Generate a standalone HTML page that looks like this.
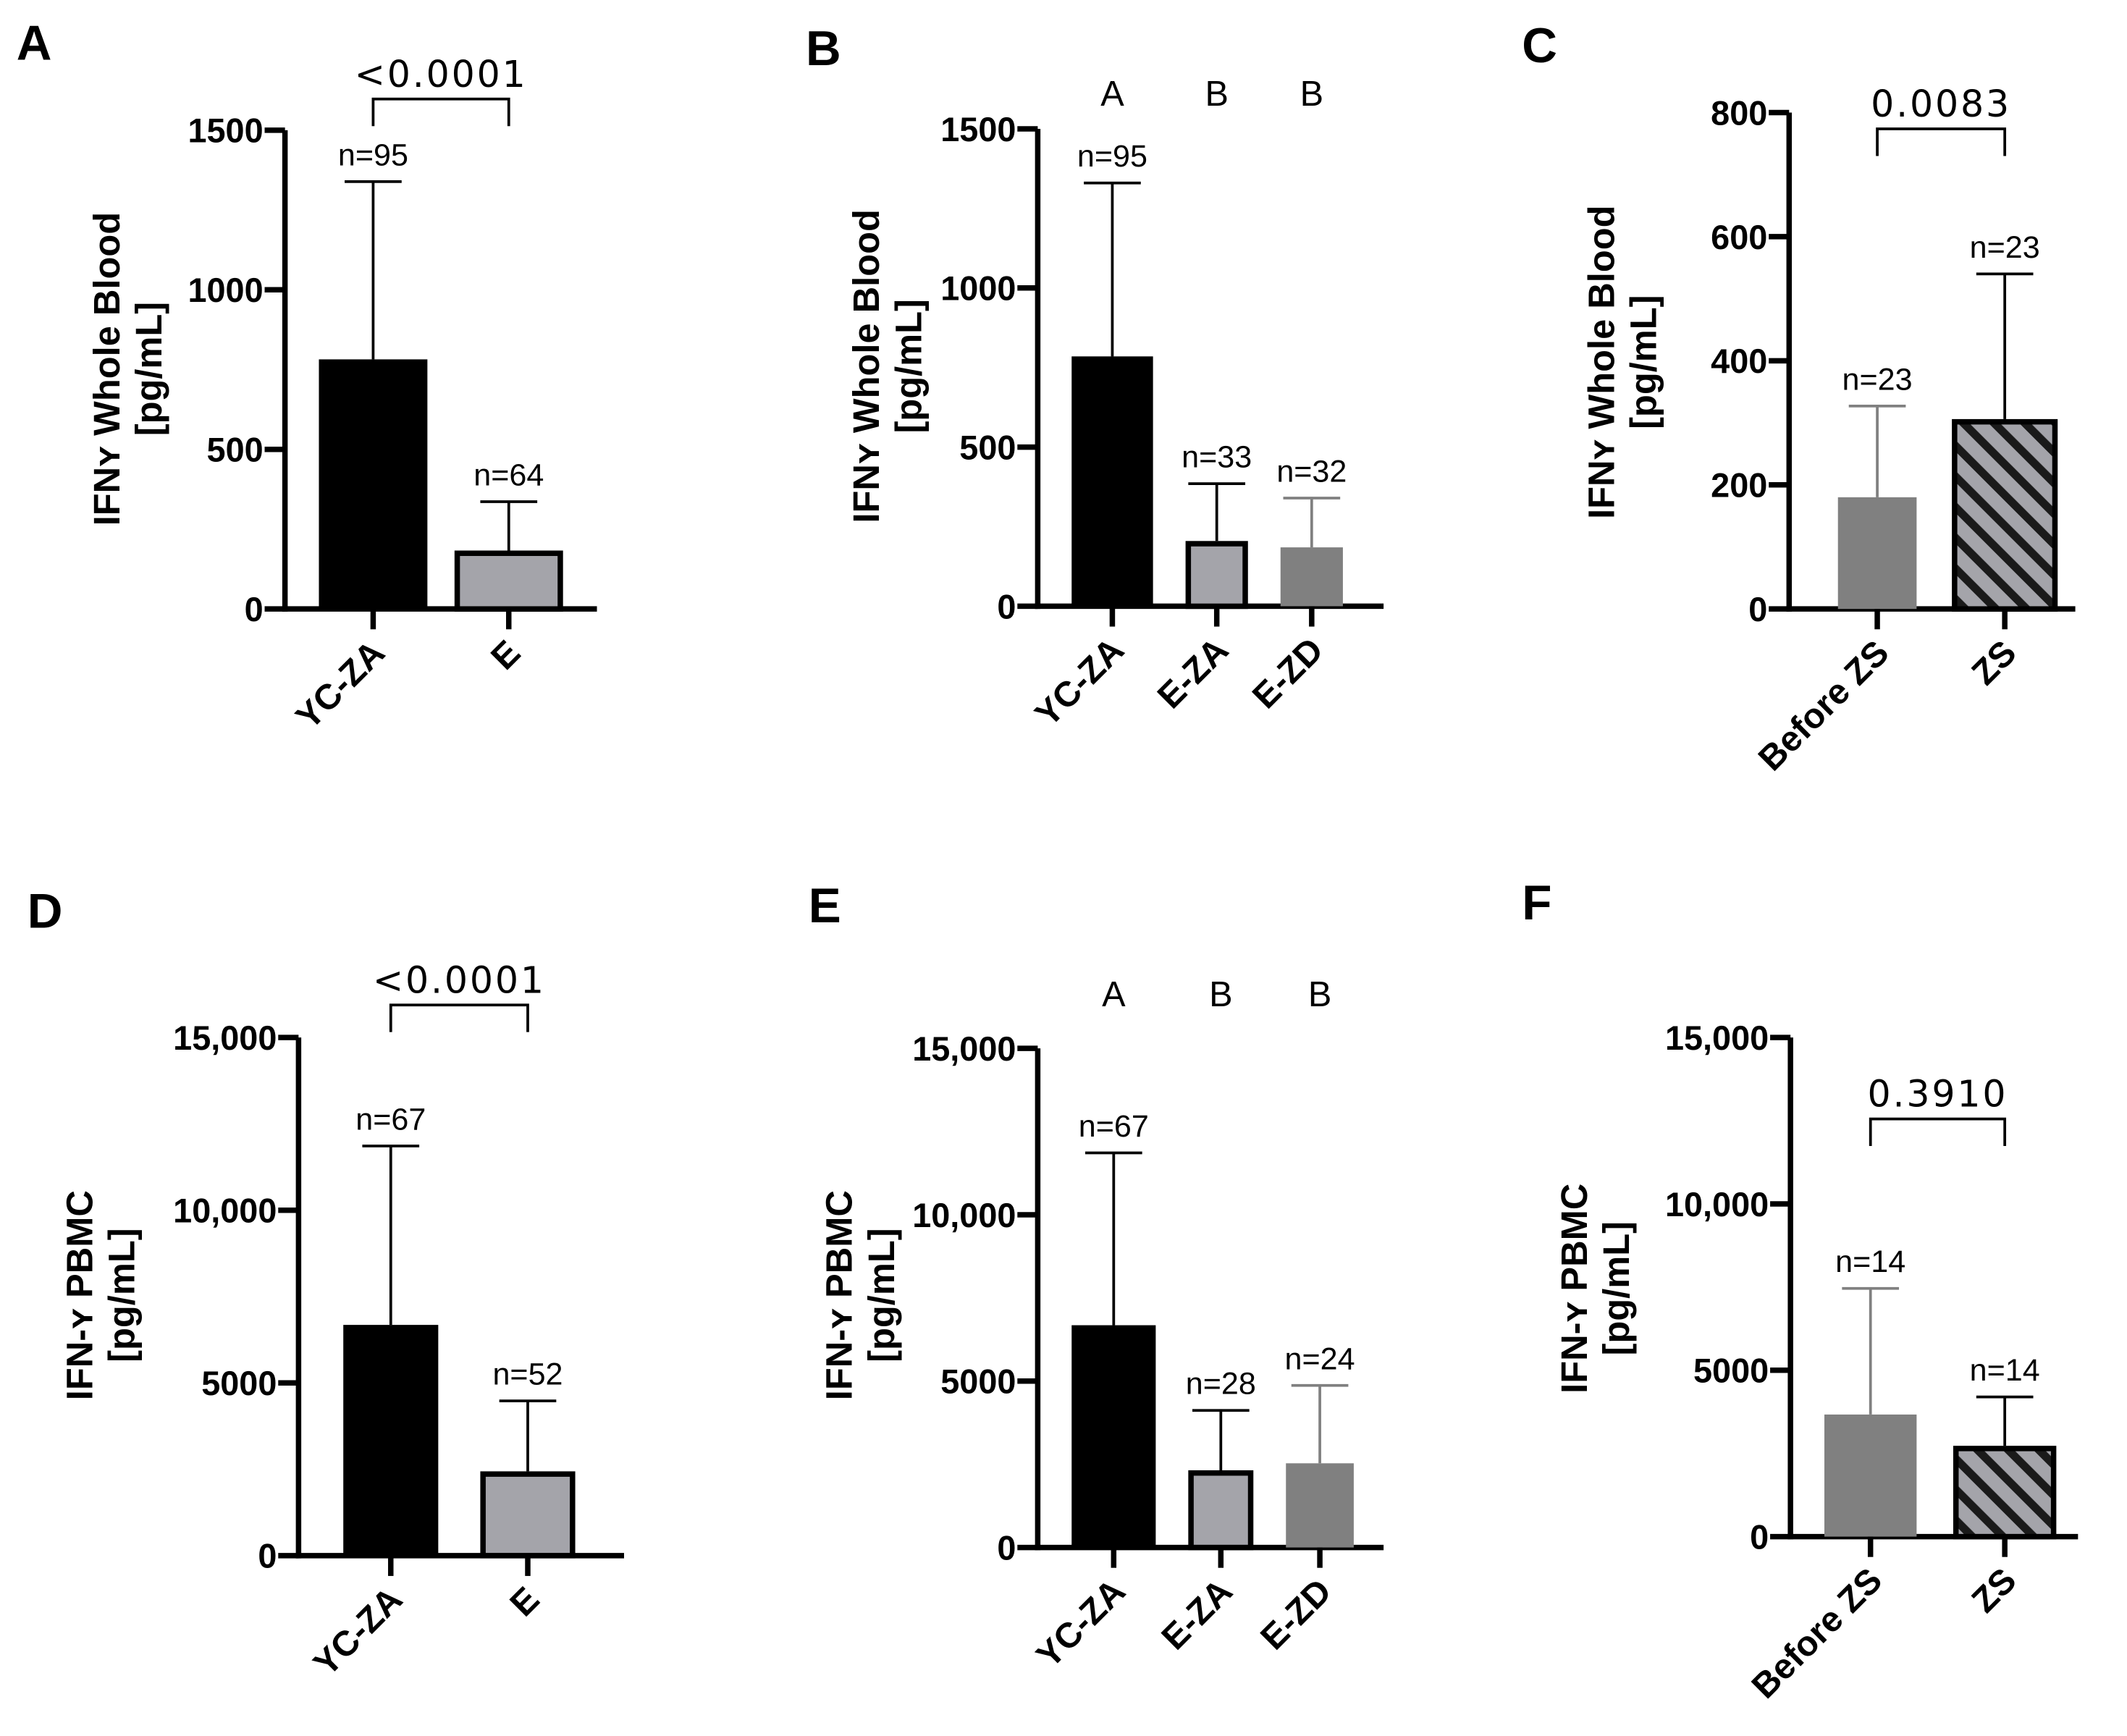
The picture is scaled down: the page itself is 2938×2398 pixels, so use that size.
<!DOCTYPE html>
<html><head><meta charset="utf-8">
<style>
html,body{margin:0;padding:0;background:#fff;}
svg{display:block;}
text{font-family:"Liberation Sans",sans-serif;}
.tick{font-weight:bold;font-size:25px;}
.xt{font-weight:bold;font-size:26px;}
.ttl{font-weight:bold;font-size:27px;}
.nlab{font-size:23px;}
.pv{font-family:"DejaVu Sans",sans-serif;font-size:27px;letter-spacing:1.5px;}
.pl{font-weight:bold;font-size:36px;}
.grp{font-size:26px;}
</style></head>
<body>
<svg id="fig" width="2938" height="2398" viewBox="0 0 1568 1280" xmlns="http://www.w3.org/2000/svg">
<defs>
<pattern id="hatch" patternUnits="userSpaceOnUse" width="16" height="16" patternTransform="rotate(-45)">
<rect width="16" height="16" fill="#a4a4aa"/>
<rect x="0" y="0" width="6" height="16" fill="#1a1a1a"/>
</pattern>
</defs>
</svg>
<script>
// Panel A
const catsA=["YC-ZA","E"];
const meanA=[782,183];
const errA=[1339,336];
const nA=["n=95","n=64"];
const ticksA=[0,500,1000,1500];
const tickLabA=["0","500","1000","1500"];
// Panel B
const catsB=["YC-ZA","E-ZA","E-ZD"];
const meanB=[785,205,185];
const errB=[1330,385,340];
const nB=["n=95","n=33","n=32"];
const grpB=["A","B","B"];
const ticksB=[0,500,1000,1500];
const tickLabB=["0","500","1000","1500"];
// Panel C
const catsC=["Before ZS","ZS"];
const meanC=[180,306];
const errC=[327,540];
const nC=["n=23","n=23"];
const ticksC=[0,200,400,600,800];
const tickLabC=["0","200","400","600","800"];
// Panel D
const catsD=["YC-ZA","E"];
const meanD=[6680,2440];
const errD=[11860,4480];
const nD=["n=67","n=52"];
const ticksD=[0,5000,10000,15000];
const tickLabD=["0","5000","10,000","15,000"];
// Panel E
const catsE=["YC-ZA","E-ZA","E-ZD"];
const meanE=[6680,2320,2530];
const errE=[11860,4120,4870];
const nE=["n=67","n=28","n=24"];
const grpE=["A","B","B"];
const ticksE=[0,5000,10000,15000];
const tickLabE=["0","5000","10,000","15,000"];
// Panel F
const catsF=["Before ZS","ZS"];
const meanF=[3670,2730];
const errF=[7460,4200];
const nF=["n=14","n=14"];
const ticksF=[0,5000,10000,15000];
const tickLabF=["0","5000","10,000","15,000"];

const svg=document.getElementById('fig');
const NS="http://www.w3.org/2000/svg";
function mk(tag,attrs,parent,txt){const e=document.createElementNS(NS,tag);for(const k in attrs)e.setAttribute(k,attrs[k]);if(txt!==undefined)e.textContent=txt;(parent||svg).appendChild(e);return e;}

function panel(p){
  const g=mk('g',{});
  
  
  const ys=v=>p.y0-(v/p.max)*(p.y0-p.yTop);
  const lbl=mk('text',{x:p.letterX,y:p.letterY,class:'pl'},g,p.id);
  
  
  const ya=mk('line',{x1:p.ax,y1:ys(p.max),x2:p.ax,y2:p.y0+2,stroke:'#000','stroke-width':4},g);
  
  
  p.ticks.forEach((t,i)=>{
    mk('line',{x1:p.ax-15,y1:ys(t),x2:p.ax,y2:ys(t),stroke:'#000','stroke-width':4},g);
    const tl=mk('text',{x:p.ax-16,y:ys(t)+9,'text-anchor':'end',class:'tick'},g,p.tickLab[i]);
    
    
  });
  const xa=mk('line',{x1:p.ax-2,y1:p.y0,x2:p.axEnd,y2:p.y0,stroke:'#000','stroke-width':4},g);
  
  
  const tt=mk('text',{transform:`translate(${p.titleX},${p.titleY}) rotate(-90)`,'text-anchor':'middle',class:'ttl'},g);
  
  
  mk('tspan',{x:0,dy:0},tt,p.title1);
  mk('tspan',{x:0,dy:31},tt,'[pg/mL]');
  p.cats.forEach((c,i)=>{
    const cx=p.xs[i], w=p.widths[i], st=p.styles[i];
    const top=ys(p.mean[i]);
    const ec=st.errColor||'#000';
    mk('line',{x1:cx,y1:ys(p.err[i]),x2:cx,y2:top,stroke:ec,'stroke-width':2},g);
    mk('line',{x1:cx-21,y1:ys(p.err[i]),x2:cx+21,y2:ys(p.err[i]),stroke:ec,'stroke-width':2},g);
    let b;
    if(st.border){
      b=mk('rect',{x:cx-w/2+2,y:top+2,width:w-4,height:p.y0-top-2,fill:st.fill,stroke:'#000','stroke-width':4},g);
    } else {
      b=mk('rect',{x:cx-w/2,y:top,width:w,height:p.y0-top,fill:st.fill},g);
    }
    
    
    const nl=mk('text',{x:cx,y:ys(p.err[i])-12,'text-anchor':'middle',class:'nlab'},g,p.n[i]);
    
    
    mk('line',{x1:cx,y1:p.y0,x2:cx,y2:p.y0+15,stroke:'#000','stroke-width':4},g);
    const xl=mk('text',{transform:`translate(${cx+10},${p.y0+34}) rotate(-45)`,'text-anchor':'end',class:'xt'},g,c);
    
    
    if(p.grp){
      const gl=mk('text',{x:cx,y:p.grpY,'text-anchor':'middle',class:'grp'},g,p.grp[i]);
      
      
    }
  });
  if(p.pval){
    const x1=p.xs[0],x2=p.xs[p.xs.length-1];
    const br=mk('path',{d:`M${x1},${p.brY+20} V${p.brY} H${x2} V${p.brY+20}`,fill:'none',stroke:'#000','stroke-width':2},g);
    
    
    const pv=mk('text',{x:(x1+x2)/2,y:p.brY-9,'text-anchor':'middle',class:'pv'},g,p.pval);
    
    
  }
}
const BLACK={fill:'#000'}, LG={fill:'#a4a4aa',border:true}, DG={fill:'#808080',errColor:'#808080'}, H={fill:'url(#hatch)',border:true};

panel({id:'A',letterX:12,letterY:44,ax:210,axEnd:440,y0:449,yTop:96,max:1500,ticks:ticksA,tickLab:tickLabA,
 cats:catsA,mean:meanA,err:errA,n:nA,xs:[275,375],widths:[80,80],styles:[BLACK,LG],
 title1:'IFNʏ Whole Blood',titleX:88,titleY:272,pval:'<0.0001',brY:73});
panel({id:'B',letterX:594,letterY:48,ax:765,axEnd:1020,y0:447,yTop:95,max:1500,ticks:ticksB,tickLab:tickLabB,
 cats:catsB,mean:meanB,err:errB,n:nB,xs:[820,897,967],widths:[60,46,46],styles:[BLACK,LG,DG],
 title1:'IFNʏ Whole Blood',titleX:648,titleY:270,grp:grpB,grpY:78});
panel({id:'C',letterX:1122,letterY:46,ax:1319,axEnd:1530,y0:449,yTop:83,max:800,ticks:ticksC,tickLab:tickLabC,
 cats:catsC,mean:meanC,err:errC,n:nC,xs:[1384,1478],widths:[58,78],styles:[DG,H],
 title1:'IFNʏ Whole Blood',titleX:1190,titleY:267,pval:'0.0083',brY:95});
panel({id:'D',letterX:20,letterY:684,ax:220,axEnd:460,y0:1147,yTop:765,max:15000,ticks:ticksD,tickLab:tickLabD,
 cats:catsD,mean:meanD,err:errD,n:nD,xs:[288,389],widths:[70,70],styles:[BLACK,LG],
 title1:'IFN-ʏ PBMC',titleX:68,titleY:955,pval:'<0.0001',brY:741});
panel({id:'E',letterX:596,letterY:680,ax:765,axEnd:1020,y0:1141,yTop:773,max:15000,ticks:ticksE,tickLab:tickLabE,
 cats:catsE,mean:meanE,err:errE,n:nE,xs:[821,900,973],widths:[62,48,50],styles:[BLACK,LG,DG],
 title1:'IFN-ʏ PBMC',titleX:628,titleY:955,grp:grpE,grpY:742});
panel({id:'F',letterX:1122,letterY:678,ax:1320,axEnd:1532,y0:1133,yTop:765,max:15000,ticks:ticksF,tickLab:tickLabF,
 cats:catsF,mean:meanF,err:errF,n:nF,xs:[1379,1478],widths:[68,76],styles:[DG,H],
 title1:'IFN-ʏ PBMC',titleX:1170,titleY:950,pval:'0.3910',brY:825});
</script>
</body></html>
